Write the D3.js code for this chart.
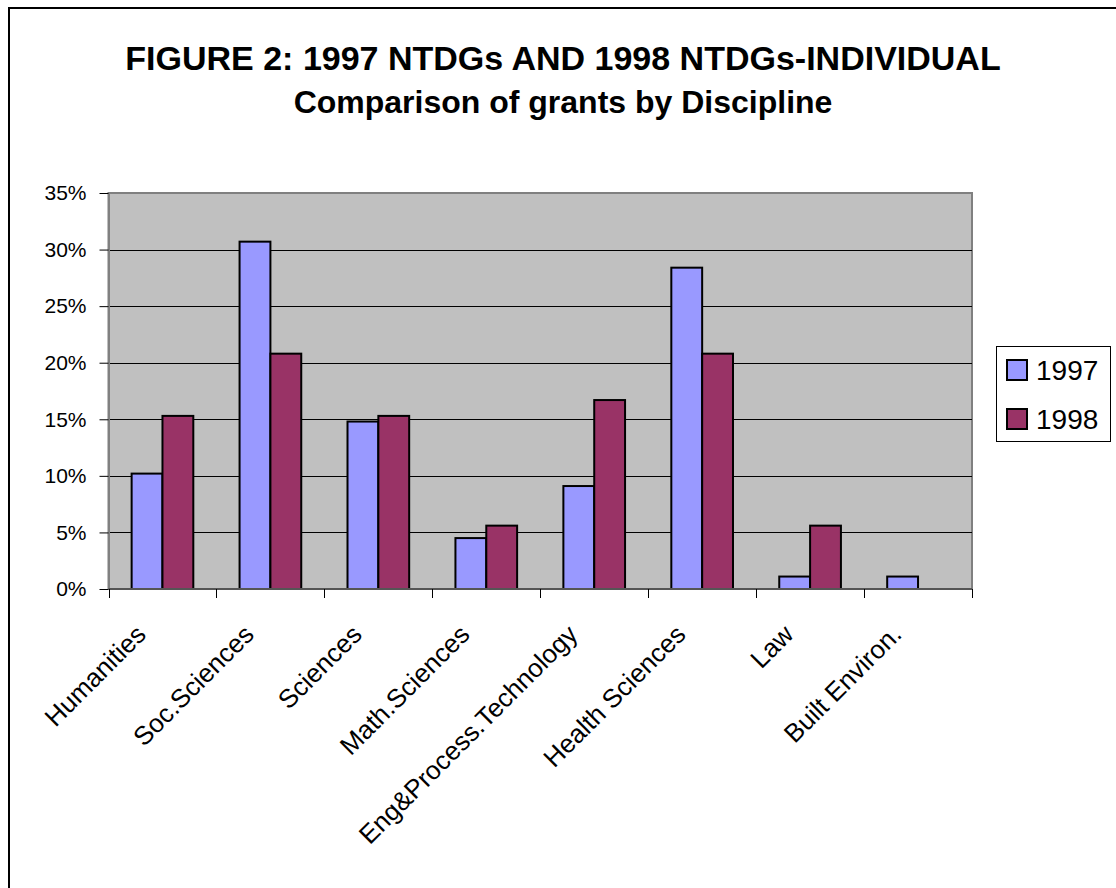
<!DOCTYPE html>
<html>
<head>
<meta charset="utf-8">
<script src="https://cdn.jsdelivr.net/npm/d3@7"></script>
<style>
  html, body { margin: 0; padding: 0; background: #fff; }
  svg { display: block; font-family: Arial, "Liberation Sans", sans-serif; }
</style>
</head>
<body>
<svg id="chart" width="1116" height="888"></svg>
<script>
// Share of grants by discipline (percent of each year's total)
const categories = ["Humanities", "Soc.Sciences", "Sciences", "Math.Sciences",
  "Eng&Process.Technology", "Health Sciences", "Law", "Built Environ."];
const seriesNames = ["1997", "1998"];
const values1997 = [10.2, 30.7, 14.8, 4.5, 9.1, 28.4, 1.1, 1.1];
const values1998 = [15.3, 20.8, 15.3, 5.6, 16.7, 20.8, 5.6, 0];
const yTicks = [0, 5, 10, 15, 20, 25, 30, 35];
const titleLines = ["FIGURE 2: 1997 NTDGs AND 1998 NTDGs-INDIVIDUAL",
  "Comparison of grants by Discipline"];

const colors = { "1997": "#9999FF", "1998": "#993366" };
const valuesBySeries = { "1997": values1997, "1998": values1998 };

const svg = d3.select("#chart");

// outer chart frame
svg.append("rect")
  .attr("x", 9).attr("y", 8).attr("width", 1130).attr("height", 900)
  .attr("fill", "#fff").attr("stroke", "#000").attr("stroke-width", 2);

// title
svg.append("g").selectAll("text").data(titleLines).join("text")
  .attr("x", 563).attr("y", (d, i) => 70 + i * 43)
  .attr("text-anchor", "middle")
  .attr("font-weight", "bold").attr("font-size", (d, i) => i === 0 ? 34 : 32)
  .text(d => d);

const plot = { left: 108.5, right: 972, top: 193, bottom: 589 };

const x = d3.scaleBand().domain(categories).range([plot.left, plot.right]).padding(0);
const bw = x.bandwidth();
const gap = bw * 1.5 / 3.5; // gap width 150%
const x1 = d3.scaleBand().domain(seriesNames).range([gap / 2, bw - gap / 2]).padding(0);
const y = d3.scaleLinear().domain([0, 35]).range([plot.bottom, plot.top]);

// plot background
svg.append("rect")
  .attr("x", plot.left).attr("y", plot.top)
  .attr("width", plot.right - plot.left).attr("height", plot.bottom - plot.top)
  .attr("fill", "#C0C0C0").attr("stroke", "#808080").attr("stroke-width", 2);

// horizontal gridlines
svg.append("g").selectAll("line").data(yTicks.filter(t => t > 0 && t < 35)).join("line")
  .attr("x1", plot.left).attr("x2", plot.right)
  .attr("y1", d => Math.round(y(d)) + 0.5).attr("y2", d => Math.round(y(d)) + 0.5)
  .attr("stroke", "#000").attr("stroke-width", 1);

// bars
const groups = svg.append("g").selectAll("g").data(categories).join("g")
  .attr("transform", d => `translate(${x(d)},0)`);
groups.selectAll("rect")
  .data((c, i) => seriesNames.map(s => ({ s, v: valuesBySeries[s][i] })).filter(d => d.v > 0))
  .join("rect")
  .attr("x", d => x1(d.s))
  .attr("y", d => y(d.v))
  .attr("width", x1.bandwidth())
  .attr("height", d => y(0) - y(d.v))
  .attr("fill", d => colors[d.s])
  .attr("stroke", "#000").attr("stroke-width", 2);

// y axis
const yAxis = svg.append("g")
  .attr("transform", `translate(${plot.left},0)`)
  .call(d3.axisLeft(y).tickValues(yTicks).tickFormat(d => d + "%").tickSize(9).tickPadding(13).tickSizeOuter(0));
yAxis.select(".domain").attr("stroke", "#808080").attr("stroke-width", 2);
yAxis.selectAll(".tick line").attr("stroke", "#000");
yAxis.selectAll(".tick text").attr("font-size", 21).attr("font-family", "Arial, 'Liberation Sans', sans-serif").attr("fill", "#000");

// x axis: tick marks at category boundaries
const bounds = categories.map(c => x(c)).concat([x(categories[categories.length - 1]) + bw]);
svg.append("line")
  .attr("x1", plot.left).attr("x2", plot.right)
  .attr("y1", plot.bottom).attr("y2", plot.bottom)
  .attr("stroke", "#555").attr("stroke-width", 2);
svg.append("g").selectAll("line").data(bounds).join("line")
  .attr("x1", d => Math.round(d) + 0.5).attr("x2", d => Math.round(d) + 0.5)
  .attr("y1", plot.bottom).attr("y2", plot.bottom + 9)
  .attr("stroke", "#000");

// category labels, rotated
svg.append("g").selectAll("text").data(categories).join("text")
  .attr("transform", d => `translate(${x(d) + bw / 2 - 15},${636}) rotate(-45)`)
  .attr("text-anchor", "end")
  .attr("font-size", 26)
  .text(d => d);

// legend
const lg = svg.append("g");
lg.append("rect")
  .attr("x", 996.5).attr("y", 346.5).attr("width", 114).attr("height", 95)
  .attr("fill", "#fff").attr("stroke", "#000").attr("stroke-width", 1);
const items = lg.selectAll("g.item").data(seriesNames).join("g")
  .attr("class", "item")
  .attr("transform", (d, i) => `translate(0,${i * 49})`);
items.append("rect")
  .attr("x", 1007).attr("y", 360).attr("width", 20).attr("height", 20)
  .attr("fill", d => colors[d]).attr("stroke", "#000").attr("stroke-width", 2);
items.append("text")
  .attr("x", 1036).attr("y", 380)
  .attr("font-size", 28)
  .text(d => d);
</script>
</body>
</html>
